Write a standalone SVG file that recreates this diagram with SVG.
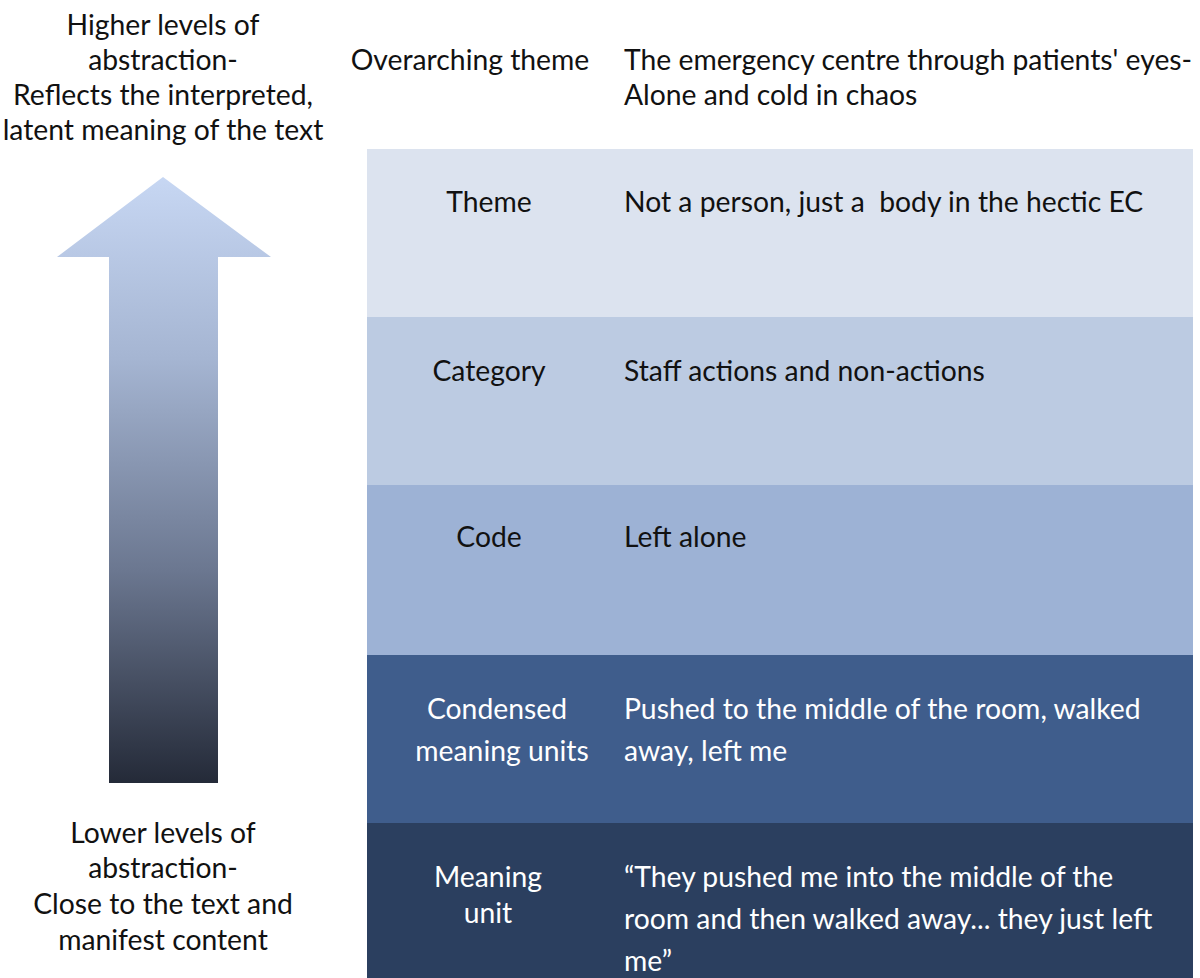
<svg xmlns="http://www.w3.org/2000/svg" width="1200" height="978" viewBox="0 0 1200 978">
<defs>
<linearGradient id="arrowGrad" x1="0" y1="0" x2="0" y2="1">
<stop offset="0" stop-color="#c7d7f3"/>
<stop offset="0.3" stop-color="#a5b5d2"/>
<stop offset="0.65" stop-color="#6b7790"/>
<stop offset="1" stop-color="#242a38"/>
</linearGradient>
<style>
text{font-family:Lato,"Open Sans","Liberation Sans",sans-serif;font-size:28.3px;fill:#111;white-space:pre}
.c{text-anchor:middle}
.w{fill:#fff}
</style>
</defs>
<rect width="1200" height="978" fill="#fff"/>
<g id="arrow">
<polygon points="163,177 271,257 218,257 218,783 109,783 109,257 57,257" fill="url(#arrowGrad)"/>
</g>
<g id="label-higher">
<text class="c" x="163" y="35">Higher levels of</text>
<text class="c" x="163" y="70">abstraction-</text>
<text class="c" x="163" y="105">Reflects the interpreted,</text>
<text class="c" x="163" y="140">latent meaning of the text</text>
</g>
<g id="label-lower">
<text class="c" x="163" y="843">Lower levels of</text>
<text class="c" x="163" y="878">abstraction-</text>
<text class="c" x="163" y="914">Close to the text and</text>
<text class="c" x="163" y="950">manifest content</text>
</g>
<g id="overarching">
<text class="c" x="470" y="70">Overarching theme</text>
<text x="624" y="70">The emergency centre through patients' eyes-</text>
<text x="624" y="105">Alone and cold in chaos</text>
</g>
<g id="theme">
<rect x="367" y="149" width="826" height="168" fill="#dce3ef"/>
<text class="c" x="489" y="212">Theme</text>
<text x="624" y="212" xml:space="preserve">Not a person, just a  body in the hectic EC</text>
</g>
<g id="category">
<rect x="367" y="317" width="826" height="168" fill="#bccbe2"/>
<text class="c" x="489" y="381">Category</text>
<text x="624" y="381">Staff actions and non-actions</text>
</g>
<g id="code">
<rect x="367" y="485" width="826" height="170" fill="#9db2d5"/>
<text class="c" x="489" y="547">Code</text>
<text x="624" y="547">Left alone</text>
</g>
<g id="condensed">
<rect x="367" y="655" width="826" height="168" fill="#3f5d8c"/>
<text class="c w" x="497" y="719">Condensed</text>
<text class="c w" x="502" y="761">meaning units</text>
<text class="w" x="624" y="719">Pushed to the middle of the room, walked</text>
<text class="w" x="624" y="761">away, left me</text>
</g>
<g id="meaning-unit">
<rect x="367" y="823" width="826" height="155" fill="#2b3f5f"/>
<text class="c w" x="488" y="887">Meaning</text>
<text class="c w" x="488" y="923">unit</text>
<text class="w" x="624" y="887">“They pushed me into the middle of the</text>
<text class="w" x="624" y="929">room and then walked away... they just left</text>
<text class="w" x="624" y="971">me”</text>
</g>
<g id="connectors"/>
</svg>
